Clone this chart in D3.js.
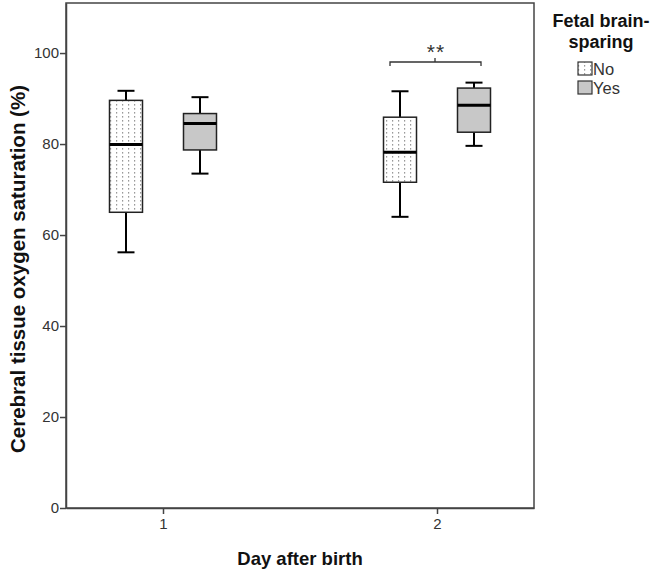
<!DOCTYPE html>
<html>
<head>
<meta charset="utf-8">
<script src="https://cdn.jsdelivr.net/npm/d3@7"></script>
<style>
  body { margin: 0; background: #fff; }
  text { font-family: "Liberation Sans", Arial, sans-serif; }
</style>
</head>
<body>
<div id="chart"></div>
<script>
// Data
var days = ["1", "2"];
var groups = ["No", "Yes"];
// [whisker low, Q1, median, Q3, whisker high]
var noStats = [[56.2, 65.0, 79.9, 89.6, 91.7], [64.0, 71.6, 78.2, 85.9, 91.6]];
var yesStats = [[73.5, 78.7, 84.5, 86.7, 90.3], [79.6, 82.6, 88.5, 92.3, 93.5]];
var yTicks = [0, 20, 40, 60, 80, 100];

var svgWidth = 655, svgHeight = 571;
var margin = { top: 3, left: 66 };
var width = 468, height = 505;

var svg = d3.select("#chart").append("svg")
  .attr("width", svgWidth)
  .attr("height", svgHeight);

// dotted pattern for "No"
var defs = svg.append("defs");
var pat = defs.append("pattern")
  .attr("id", "dots")
  .attr("patternUnits", "userSpaceOnUse")
  .attr("width", 6).attr("height", 4);
pat.append("rect").attr("width", 6).attr("height", 4).attr("fill", "#fff");
pat.append("rect").attr("x", 2).attr("y", 1).attr("width", 1.2).attr("height", 1.6).attr("fill", "#999");

var chartGroup = svg.append("g")
  .attr("transform", `translate(${margin.left}, ${margin.top})`);

var x = d3.scalePoint().domain(days).range([0, width]).padding(0.354);
var y = d3.scaleLinear().domain([0, 111]).range([height, 0]);

// frame
chartGroup.append("rect")
  .attr("width", width).attr("height", height)
  .attr("fill", "none").attr("stroke", "#444").attr("stroke-width", 1.5);

// axes
var yAxis = chartGroup.append("g")
  .call(d3.axisLeft(y).tickValues(yTicks).tickSize(6).tickSizeOuter(0).tickPadding(1));
var xAxis = chartGroup.append("g")
  .attr("transform", `translate(0, ${height})`)
  .call(d3.axisBottom(x).tickSize(6).tickSizeOuter(0).tickPadding(4));
[xAxis, yAxis].forEach(function(a) {
  a.select(".domain").attr("stroke", "#444").attr("stroke-width", 1.5);
  a.selectAll(".tick line").attr("stroke", "#444").attr("stroke-width", 1.5);
  a.selectAll(".tick text").attr("font-size", "15px").attr("fill", "#333")
    .style("font-family", "Liberation Sans, Arial, sans-serif");
});

var boxW = 33, capW = 17, offset = 37;

function drawBox(center, s, fill) {
  var g = chartGroup.append("g");
  g.append("line").attr("x1", center).attr("x2", center)
    .attr("y1", y(s[0])).attr("y2", y(s[1]));
  g.append("line").attr("x1", center).attr("x2", center)
    .attr("y1", y(s[3])).attr("y2", y(s[4]));
  g.append("line").attr("x1", center - capW / 2).attr("x2", center + capW / 2)
    .attr("y1", y(s[0])).attr("y2", y(s[0]));
  g.append("line").attr("x1", center - capW / 2).attr("x2", center + capW / 2)
    .attr("y1", y(s[4])).attr("y2", y(s[4]));
  g.selectAll("line").attr("stroke", "#000").attr("stroke-width", 2);
  g.append("rect")
    .attr("x", center - boxW / 2).attr("width", boxW)
    .attr("y", y(s[3])).attr("height", y(s[1]) - y(s[3]))
    .attr("fill", fill).attr("stroke", "#222").attr("stroke-width", 1.5);
  g.append("line").attr("x1", center - boxW / 2).attr("x2", center + boxW / 2)
    .attr("y1", y(s[2])).attr("y2", y(s[2]))
    .attr("stroke", "#000").attr("stroke-width", 3);
}

days.forEach(function(d, i) {
  drawBox(x(d) - offset, noStats[i], "url(#dots)");
  drawBox(x(d) + offset, yesStats[i], "#c8c8c8");
});

// significance bracket on day 2
var bx1 = x("2") - offset - 10, bx2 = x("2") + offset + 7;
var by = 59;
chartGroup.append("path")
  .attr("d", `M${bx1},${by + 4} L${bx1},${by} L${bx2},${by} L${bx2},${by + 4} M${x("2") - 2},${by} L${x("2") - 2},${by - 4}`)
  .attr("fill", "none").attr("stroke", "#333").attr("stroke-width", 1.3);
chartGroup.append("text")
  .attr("x", x("2") - 1).attr("y", by - 3)
  .attr("text-anchor", "middle")
  .attr("font-size", "21px").attr("fill", "#333")
  .attr("letter-spacing", "1px")
  .text("**");

// axis labels
svg.append("text")
  .attr("transform", `translate(25, ${margin.top + 266}) rotate(-90)`)
  .attr("text-anchor", "middle")
  .attr("font-size", "20.5px").attr("font-weight", "bold").attr("fill", "#111")
  .text("Cerebral tissue oxygen saturation (%)");
svg.append("text")
  .attr("x", margin.left + width / 2).attr("y", 565)
  .attr("text-anchor", "middle")
  .attr("font-size", "18.5px").attr("font-weight", "bold").attr("fill", "#111")
  .text("Day after birth");

// legend
var legend = svg.append("g");
legend.append("text").attr("x", 601).attr("y", 27)
  .attr("text-anchor", "middle").attr("font-size", "18px").attr("font-weight", "bold").attr("fill", "#111")
  .text("Fetal brain-");
legend.append("text").attr("x", 601).attr("y", 48)
  .attr("text-anchor", "middle").attr("font-size", "18px").attr("font-weight", "bold").attr("fill", "#111")
  .text("sparing");
var fills = ["url(#dots)", "#c8c8c8"];
groups.forEach(function(gname, i) {
  var ly = 62 + i * 19;
  legend.append("rect").attr("x", 578).attr("y", ly).attr("width", 14).attr("height", 13)
    .attr("fill", fills[i]).attr("stroke", "#333").attr("stroke-width", 1.2);
  legend.append("text").attr("x", 593).attr("y", ly + 13)
    .attr("font-size", "16.5px").attr("fill", "#333")
    .text(gname);
});
</script>
</body>
</html>
